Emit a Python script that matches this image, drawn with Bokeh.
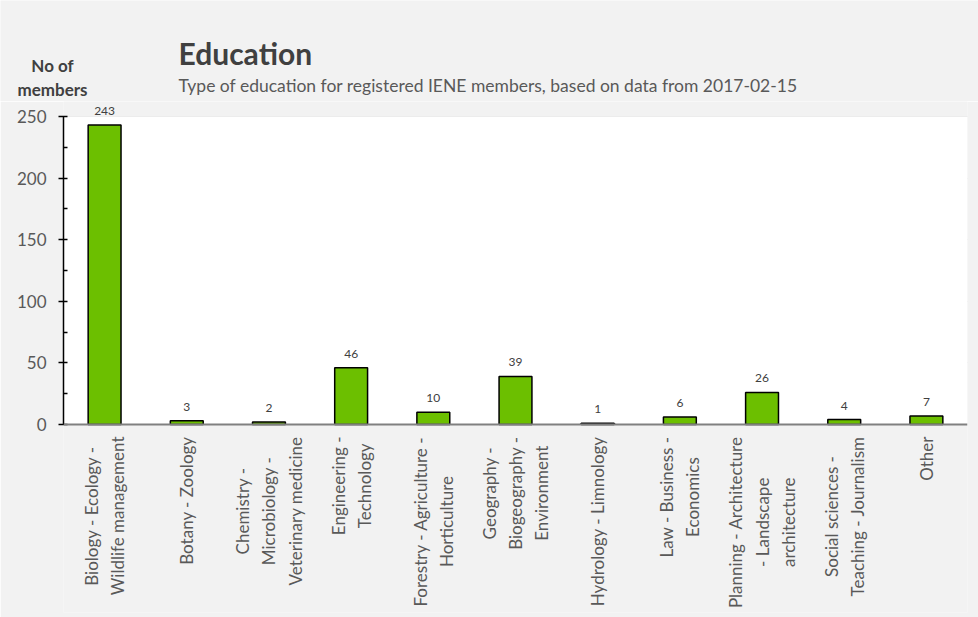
import math
from bokeh.plotting import figure
from bokeh.models import (ColumnDataSource, FactorRange, Range1d, FixedTicker,
                          Span, Label, LabelSet, BoxAnnotation)
from bokeh.core.properties import value
from bokeh.embed import file_html
from bokeh.resources import INLINE

# ---------------- data ----------------
categories = [
    "Biology - Ecology -\nWildlife management",
    "Botany - Zoology",
    "Chemistry -\nMicrobiology -\nVeterinary medicine",
    "Engineering -\nTechnology",
    "Forestry - Agriculture -\nHorticulture",
    "Geography -\nBiogeography -\nEnvironment",
    "Hydrology - Limnology",
    "Law - Business -\nEconomics",
    "Planning - Architecture\n- Landscape\narchitecture",
    "Social sciences -\nTeaching - Journalism",
    "Other",
]
members = [243, 3, 2, 46, 10, 39, 1, 6, 26, 4, 7]
y_ticks = [0, 50, 100, 150, 200, 250]

title_text = "Education"
subtitle_text = "Type of education for registered IENE members, based on data from 2017-02-15"
y_title_lines = ["No of", "members"]

# ---------------- layout ----------------
W, H = 978, 617
HEADER_H = 101
FRAME_LEFT, FRAME_RIGHT = 63, 967
PLOT_TOP = 116          # canvas y of the 250 line
FRAME_BOTTOM = 612
ZERO_PX = 424
Y_MAX = y_ticks[-1]
px_per_unit = (ZERO_PX - PLOT_TOP) / Y_MAX
y_start = -(FRAME_BOTTOM - ZERO_PX) / px_per_unit
y_end = Y_MAX + (PLOT_TOP - HEADER_H) / px_per_unit

FONT = "Lato"
BG = "#f2f2f2"
TXT = "#595959"
DARK = "#404040"
GREEN = "#6cbf00"

label_y = -(436 - ZERO_PX) / px_per_unit

src = ColumnDataSource(dict(
    cat=categories,
    val=members,
    val_text=[str(v) for v in members],
    lab_y=[label_y] * len(categories),
))

# ---------------- header (titles) ----------------
hdr = figure(width=W, height=HEADER_H,
             x_range=Range1d(0, W), y_range=Range1d(HEADER_H, 0),
             output_backend="svg", toolbar_location=None,
             x_axis_location=None, y_axis_location=None,
             min_border=0, background_fill_color=BG, border_fill_color=BG)
hdr.outline_line_color = None
hdr.grid.visible = False

hdr.add_layout(Label(x=178, y=52, text=title_text, text_font=FONT,
                     text_font_size="30px", text_font_style="bold",
                     text_color=DARK, text_align="left",
                     text_baseline="middle"))
hdr.add_layout(Label(x=178, y=85, text=subtitle_text, text_font=FONT,
                     text_font_size="17.5px", text_color=TXT,
                     text_align="left", text_baseline="middle"))
for line, cy in zip(y_title_lines, [65, 89]):
    hdr.add_layout(Label(x=52, y=cy, text=line, text_font=FONT,
                         text_font_size="17px", text_font_style="bold",
                         text_color=DARK, text_align="center",
                         text_baseline="middle"))

# ---------------- main chart ----------------
p = figure(
    width=W, height=H - HEADER_H,
    x_range=FactorRange(*categories),
    y_range=Range1d(y_start, y_end),
    output_backend="svg", toolbar_location=None,
    x_axis_location=None,
    min_border_left=FRAME_LEFT, min_border_right=W - FRAME_RIGHT,
    min_border_top=0, min_border_bottom=H - FRAME_BOTTOM,
    background_fill_color=BG, border_fill_color=BG,
)
p.outline_line_color = None
p.xgrid.visible = False

# white plot area
p.add_layout(BoxAnnotation(bottom=0, top=Y_MAX, fill_color="white",
                           fill_alpha=1.0, line_alpha=0, level="underlay"))

minor = [(a + b) / 2 for a, b in zip(y_ticks[:-1], y_ticks[1:])]
p.yaxis.ticker = FixedTicker(ticks=y_ticks, minor_ticks=minor)
p.yaxis.bounds = (0, Y_MAX)
p.yaxis.axis_line_color = "black"
p.yaxis.axis_line_width = 1.5
p.yaxis.major_tick_line_color = "black"
p.yaxis.major_tick_line_width = 1.5
p.yaxis.major_tick_out = 5
p.yaxis.major_tick_in = 4
p.yaxis.minor_tick_line_color = "black"
p.yaxis.minor_tick_line_width = 1.5
p.yaxis.minor_tick_out = 0
p.yaxis.minor_tick_in = 4
p.yaxis.major_label_text_font = FONT
p.yaxis.major_label_text_font_size = "17px"
p.yaxis.major_label_text_color = TXT
p.yaxis.major_label_standoff = 12

p.ygrid.ticker = FixedTicker(ticks=y_ticks[1:])
p.ygrid.grid_line_color = "#d9d9d9"
p.ygrid.grid_line_width = 1

# bars
p.vbar(x="cat", top="val", bottom=0, width=0.4, source=src,
       fill_color=GREEN, line_color="black", line_width=1.5)

# x axis line
p.add_layout(Span(location=0, dimension="width", line_color="#808080", line_width=2))

# value labels
p.add_layout(LabelSet(x="cat", y="val", text="val_text", source=src,
                      y_offset=10, text_align="center", text_baseline="bottom",
                      text_font=value(FONT), text_font_size="12px",
                      text_color=DARK))

# category labels (rotated, multi-line, centred lines)
p.text(x="cat", y="lab_y", text="cat", source=src,
       angle=math.pi / 2, anchor="center_right",
       text_align="center", text_baseline="middle",
       text_font=value(FONT), text_font_size="17px",
       text_color=TXT, text_line_height=1.25)

open("out.html", "w").write(file_html([hdr, p], INLINE))
